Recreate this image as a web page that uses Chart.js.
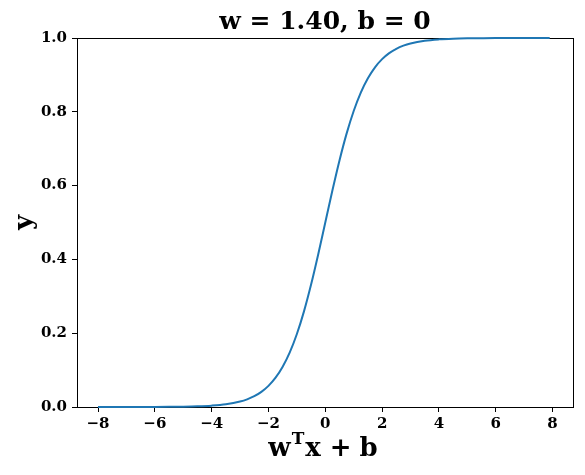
<!DOCTYPE html>
<html>
<head>
<meta charset="utf-8">
<script src="https://cdn.jsdelivr.net/npm/chart.js@4"></script>
<style>
    html, body { margin: 0; padding: 0; background: #fff; }
    #wrap { width: 585px; height: 475px; }
</style>
</head>
<body>
<div id="wrap"><canvas id="chart"></canvas></div>
<script>
// values, y = sigmoid(1.40 * x)
const xValues = [-8, -7.5, -7, -6.5, -6, -5.5, -5, -4.5, -4, -3.5, -3, -2.75, -2.5, -2.25, -2, -1.75, -1.5, -1.25, -1, -0.75, -0.5, -0.25,
    0, 0.25, 0.5, 0.75, 1, 1.25, 1.5, 1.75, 2, 2.25, 2.5, 2.75, 3, 3.5, 4, 4.5, 5, 5.5, 6, 6.5, 7, 7.5, 7.9];
const yValues = [0.0, 0.0, 0.0001, 0.0001, 0.0002, 0.0005, 0.0009, 0.0018, 0.0037, 0.0074, 0.0148, 0.0208, 0.0293, 0.0411, 0.0573, 0.0794, 0.1091, 0.1480, 0.1978, 0.2592, 0.3318, 0.4134,
    0.5, 0.5866, 0.6682, 0.7408, 0.8022, 0.8520, 0.8909, 0.9206, 0.9427, 0.9589, 0.9707, 0.9792, 0.9852, 0.9926, 0.9963, 0.9982, 0.9991, 0.9995, 0.9998, 0.9999, 0.9999, 1.0, 1.0];
const xTicks = [-8, -6, -4, -2, 0, 2, 4, 6, 8];
const yTicks = [0, 0.2, 0.4, 0.6, 0.8, 1.0];

const serif = "'DejaVu Serif', serif";

// box round the plot, and the x label with its superscript T
const frameBox = {
    id: 'frameBox',
    beforeDatasetsDraw(chart) {
        const { ctx, chartArea } = chart;
        ctx.save();
        ctx.strokeStyle = '#000';
        ctx.lineWidth = 1;
        ctx.strokeRect(Math.round(chartArea.left) + 0.5, Math.round(chartArea.top) + 0.5,
            Math.round(chartArea.right - chartArea.left), Math.round(chartArea.bottom - chartArea.top));
        ctx.restore();
    },
    afterDraw(chart) {
        const { ctx, chartArea } = chart;
        const big = 'bold 26px ' + serif;
        const small = 'bold 17px ' + serif;
        const parts = [
            { t: 'w', f: big, dy: 0, gap: 1 },
            { t: 'T', f: small, dy: -12, gap: 1 },
            { t: 'x', f: big, dy: 0, gap: 9 },
            { t: '+', f: big, dy: 0, gap: 8 },
            { t: 'b', f: big, dy: 0, gap: 0 },
        ];
        ctx.save();
        let total = 0;
        parts.forEach((p) => {
            ctx.font = p.f;
            p.w = ctx.measureText(p.t).width;
            total += p.w + p.gap;
        });
        let x = (chartArea.left + chartArea.right) / 2 - total / 2 - 2;
        const base = 456;
        ctx.fillStyle = '#000';
        ctx.textBaseline = 'alphabetic';
        ctx.textAlign = 'left';
        parts.forEach((p) => {
            ctx.font = p.f;
            ctx.fillText(p.t, x, base + p.dy);
            x += p.w + p.gap;
        });
        ctx.restore();
    }
};

new Chart(document.getElementById('chart'), {
    type: 'line',
    data: {
        datasets: [{
            data: xValues.map((x, i) => ({ x, y: yValues[i] })),
            borderColor: '#1f77b4',
            borderWidth: 2,
            pointRadius: 0,
            cubicInterpolationMode: 'monotone',
            fill: false,
            clip: 2,
        }],
    },
    options: {
        responsive: true,
        maintainAspectRatio: false,
        animation: false,
        layout: { padding: { left: 0, right: 12, top: 0, bottom: 0 } },
        plugins: {
            legend: { display: false },
            tooltip: { enabled: false },
            title: {
                display: true,
                fullSize: false,
                text: 'w = 1.40, b = 0',
                color: '#000',
                font: { family: serif, size: 25, weight: 'bold' },
                padding: { top: 7, bottom: 1 },
            },
        },
        scales: {
            x: {
                type: 'linear',
                min: -8.74,
                max: 8.72,
                afterBuildTicks: (scale) => { scale.ticks = xTicks.map((v) => ({ value: v })); },
                afterFit: (scale) => { scale.height = 68; },
                grid: { drawOnChartArea: false, drawTicks: true, tickLength: 5, tickColor: '#000' },
                border: { display: true, color: '#000', width: 1 },
                ticks: {
                    color: '#000',
                    padding: 3,
                    maxRotation: 0,
                    font: { family: serif, size: 15, weight: 'bold' },
                    callback: (v) => String(v).replace('-', '\u2212'),
                },
            },
            y: {
                min: 0,
                max: 1,
                afterBuildTicks: (scale) => { scale.ticks = yTicks.map((v) => ({ value: v })); },
                afterFit: (scale) => { scale.width = 77; },
                grid: { drawOnChartArea: false, drawTicks: true, tickLength: 5, tickColor: '#000' },
                border: { display: true, color: '#000', width: 1 },
                ticks: {
                    color: '#000',
                    padding: 5,
                    font: { family: serif, size: 15, weight: 'bold' },
                    callback: (v) => Number(v).toFixed(1),
                },
                title: {
                    display: true,
                    text: 'y',
                    color: '#000',
                    font: { family: serif, size: 26, weight: 'bold' },
                    padding: { top: 10, bottom: 0 },
                },
            },
        },
    },
    plugins: [frameBox],
});
</script>
</body>
</html>
